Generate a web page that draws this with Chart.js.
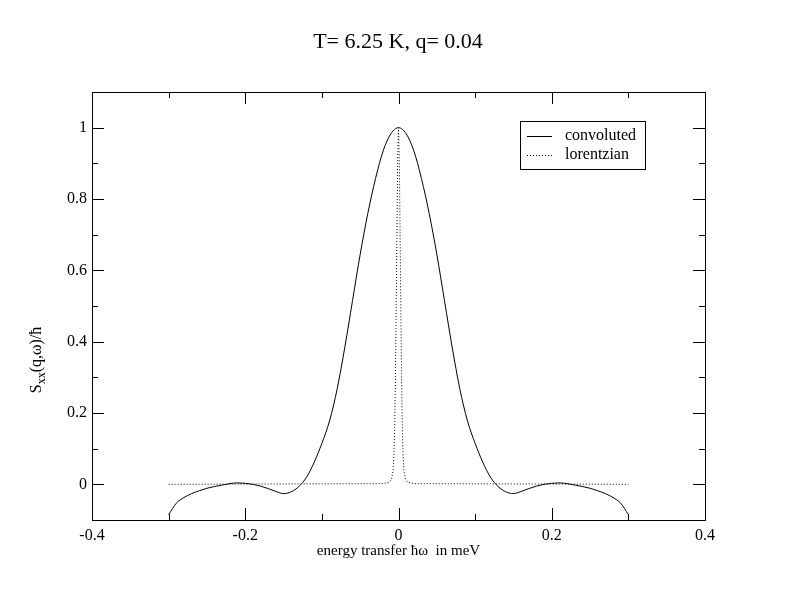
<!DOCTYPE html>
<html>
<head>
<meta charset="utf-8">
<script src="https://cdn.jsdelivr.net/npm/chart.js@4.4.1/dist/chart.umd.min.js"></script>
<style>
  html, body { margin: 0; padding: 0; background: #fff; }
  #wrap { width: 792px; height: 612px; }
</style>
</head>
<body>
<div id="wrap"><canvas id="plot"></canvas></div>
<script>
const chartTitle = 'T= 6.25 K, q= 0.04';
const xTitle = 'energy transfer \u0127\u03c9  in meV';

// convoluted curve
const convX = [-0.30, -0.29, -0.28, -0.27, -0.26, -0.25, -0.24, -0.23, -0.22, -0.21,
               -0.20, -0.19, -0.18, -0.17, -0.16, -0.15, -0.14, -0.13, -0.12, -0.11,
               -0.10, -0.09, -0.08, -0.07, -0.06, -0.05, -0.04, -0.03, -0.02, -0.01,
                0.00,
                0.01, 0.02, 0.03, 0.04, 0.05, 0.06, 0.07, 0.08, 0.09, 0.10,
                0.11, 0.12, 0.13, 0.14, 0.15, 0.16, 0.17, 0.18, 0.19, 0.20,
                0.21, 0.22, 0.23, 0.24, 0.25, 0.26, 0.27, 0.28, 0.29, 0.30];
const convY = [-0.085, -0.053, -0.037, -0.026, -0.018, -0.011, -0.006, -0.002, 0.002, 0.004,
                0.003, 0.000, -0.005, -0.012, -0.020, -0.026, -0.021, -0.006, 0.020, 0.062,
                0.115, 0.178, 0.268, 0.385, 0.515, 0.645, 0.760, 0.857, 0.935, 0.983,
                1.000,
                0.983, 0.935, 0.857, 0.760, 0.645, 0.515, 0.385, 0.268, 0.178, 0.115,
                0.062, 0.020, -0.006, -0.021, -0.026, -0.020, -0.012, -0.005, 0.000, 0.003,
                0.004, 0.002, -0.002, -0.006, -0.011, -0.018, -0.026, -0.037, -0.053, -0.085];

// lorentzian curve
const lorX = [-0.30, -0.02, -0.012, -0.009, -0.007, -0.006, -0.005, -0.004, -0.003, -0.002, -0.001,
               0.0,
               0.001, 0.002, 0.003, 0.004, 0.005, 0.006, 0.007, 0.009, 0.012, 0.02, 0.30];
const lorY = [0, 0.002, 0.006, 0.015, 0.04, 0.08, 0.16, 0.30, 0.50, 0.72, 0.92,
              1.0,
              0.92, 0.72, 0.50, 0.30, 0.16, 0.08, 0.04, 0.015, 0.006, 0.002, 0];

const xMajor = [-0.4, -0.2, 0, 0.2, 0.4];
const xMinor = [-0.3, -0.1, 0.1, 0.3];
const yMajor = [0, 0.2, 0.4, 0.6, 0.8, 1.0];
const yMinor = [-0.1, 0.1, 0.3, 0.5, 0.7, 0.9, 1.1];

const serif = '"Liberation Serif", "Times New Roman", serif';

function toPoints(xs, ys) {
    return xs.map((x, i) => ({ x: x, y: ys[i] }));
}

function fmt(v) {
    return String(Number(v.toFixed(1)));
}

// frame, inward ticks, title, y label and legend
const decorations = {
    id: 'decorations',
    afterDatasetsDraw(chart) {
        const { ctx, chartArea: a, scales: { x, y } } = chart;
        ctx.save();
        ctx.strokeStyle = '#000';
        ctx.lineWidth = 1;
        ctx.strokeRect(a.left + 0.5, a.top + 0.5, a.right - a.left, a.bottom - a.top);

        ctx.beginPath();
        const tickX = (vals, len) => vals.forEach(v => {
            const px = Math.round(x.getPixelForValue(v)) + 0.5;
            ctx.moveTo(px, a.bottom); ctx.lineTo(px, a.bottom - len);
            ctx.moveTo(px, a.top); ctx.lineTo(px, a.top + len);
        });
        const tickY = (vals, len) => vals.forEach(v => {
            const py = Math.round(y.getPixelForValue(v)) + 0.5;
            ctx.moveTo(a.left, py); ctx.lineTo(a.left + len, py);
            ctx.moveTo(a.right, py); ctx.lineTo(a.right - len, py);
        });
        tickX(xMajor, 12); tickX(xMinor, 6);
        tickY(yMajor, 12); tickY(yMinor, 6);
        ctx.stroke();
        ctx.restore();
    },
    afterDraw(chart) {
        const { ctx } = chart;
        ctx.save();
        ctx.fillStyle = '#000';

        // chart title
        ctx.font = '22px ' + serif;
        ctx.textAlign = 'center';
        ctx.textBaseline = 'middle';
        ctx.fillText(chartTitle, 398, 42);

        // y-axis label with subscript
        ctx.translate(36, 360);
        ctx.rotate(-Math.PI / 2);
        ctx.textAlign = 'left';
        ctx.textBaseline = 'alphabetic';
        const big = '16px ' + serif, small = '12px ' + serif;
        ctx.font = big; const w1 = ctx.measureText('S').width;
        ctx.font = small; const w2 = ctx.measureText('xx').width;
        ctx.font = big; const w3 = ctx.measureText('(q,\u03c9)/\u0127').width;
        let sx = -(w1 + w2 + w3) / 2;
        ctx.font = big; ctx.fillText('S', sx, 5); sx += w1;
        ctx.font = small; ctx.fillText('xx', sx, 9); sx += w2;
        ctx.font = big; ctx.fillText('(q,\u03c9)/\u0127', sx, 5);
        ctx.setTransform(1, 0, 0, 1, 0, 0);
        ctx.restore();

        // legend box
        ctx.save();
        ctx.fillStyle = '#fff';
        ctx.fillRect(520.5, 121.5, 125, 48);
        ctx.strokeStyle = '#000';
        ctx.lineWidth = 1;
        ctx.strokeRect(520.5, 121.5, 125, 48);
        ctx.font = '16px ' + serif;
        ctx.textAlign = 'left';
        ctx.textBaseline = 'middle';
        chart.data.datasets.forEach((ds, i) => {
            const ly = 136.5 + i * 19;
            ctx.beginPath();
            ctx.setLineDash(ds.borderDash || []);
            ctx.strokeStyle = ds.borderColor;
            ctx.lineWidth = ds.borderWidth;
            ctx.moveTo(527, ly); ctx.lineTo(552, ly);
            ctx.stroke();
            ctx.setLineDash([]);
            ctx.fillStyle = '#000';
            ctx.fillText(ds.label, 565, ly - 1);
        });
        ctx.restore();
    }
};

const ctx = document.getElementById('plot').getContext('2d');
new Chart(ctx, {
    type: 'line',
    data: {
        datasets: [
            {
                label: 'convoluted',
                data: toPoints(convX, convY),
                borderColor: '#000',
                borderWidth: 1,
                pointRadius: 0,
                cubicInterpolationMode: 'monotone',
                fill: false
            },
            {
                label: 'lorentzian',
                data: toPoints(lorX, lorY),
                borderColor: '#000',
                borderWidth: 1,
                borderDash: [1, 2],
                pointRadius: 0,
                tension: 0,
                fill: false
            }
        ]
    },
    options: {
        responsive: true,
        maintainAspectRatio: false,
        animation: false,
        layout: { padding: { left: 0, right: 87, top: 92, bottom: 0 } },
        scales: {
            x: {
                type: 'linear',
                min: -0.4,
                max: 0.4,
                grid: { display: false, drawTicks: false },
                border: { display: false },
                afterBuildTicks: s => { s.ticks = xMajor.map(v => ({ value: v })); },
                afterFit: s => { s.height = 92; },
                ticks: {
                    padding: 6,
                    color: '#000',
                    font: { family: serif, size: 16 },
                    callback: v => fmt(v)
                },
                title: {
                    display: true,
                    text: xTitle,
                    color: '#000',
                    font: { family: serif, size: 15 },
                    padding: { top: 0, bottom: 52 }
                }
            },
            y: {
                min: -0.1,
                max: 1.1,
                grid: { display: false, drawTicks: false },
                border: { display: false },
                afterBuildTicks: s => { s.ticks = yMajor.map(v => ({ value: v })); },
                afterFit: s => { s.width = 92; },
                ticks: {
                    padding: 5,
                    color: '#000',
                    font: { family: serif, size: 16 },
                    callback: v => fmt(v)
                }
            }
        },
        plugins: {
            legend: { display: false },
            tooltip: { enabled: false }
        }
    },
    plugins: [decorations]
});
</script>
</body>
</html>
